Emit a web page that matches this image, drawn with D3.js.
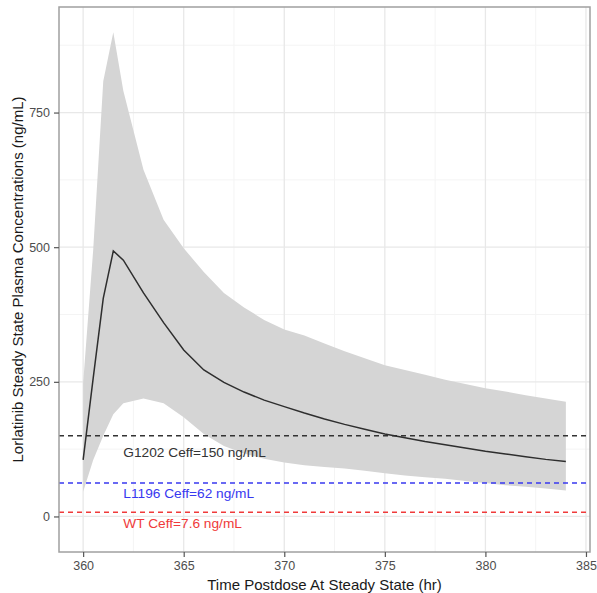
<!DOCTYPE html>
<html>
<head>
<meta charset="utf-8">
<script src="https://cdn.jsdelivr.net/npm/d3@7"></script>
<style>
  body { margin: 0; background: #fff; }
  text { font-family: "Liberation Sans", Arial, sans-serif; }
</style>
</head>
<body>
<svg id="chart" width="597" height="593"></svg>
<script>
// Time after dose (hr) and concentration summaries (ng/mL)
var times = [360, 360.5, 361, 361.5, 362, 363, 364, 365, 366, 367, 368, 369, 370,
             371, 372, 373, 374, 375, 376, 377, 378, 379, 380, 381, 382, 383, 384];
var meanConc = [105, 257, 405, 493, 476, 415, 360, 309, 272, 249, 231, 216, 204,
                192, 181, 171, 162, 153, 146, 139, 133, 127, 121, 116, 111, 106, 102];
var upperConc = [248, 495, 808, 899, 790, 644, 551, 498, 454, 415, 388, 365, 347,
                 336, 321, 307, 294, 281, 272, 263, 254, 246, 238, 232, 225, 219, 213];
var lowerConc = [46, 105, 150, 190, 210, 219, 210, 184, 153, 131, 117, 107, 100,
                 95, 92, 89, 85, 80, 76, 73, 70, 66, 62, 58, 55, 52, 48];

// Effective concentration thresholds
var ceffLabels = ["G1202 Ceff=150 ng/mL", "L1196 Ceff=62 ng/mL", "WT Ceff=7.6 ng/mL"];
var ceffValues = [150, 62, 7.6];
var ceffLabelY = [120, 43, -12];
var ceffColors = ["#333333", "#3838f0", "#f03a3a"];

var xTicks = [360, 365, 370, 375, 380, 385];
var yTicks = [0, 250, 500, 750];

var svg = d3.select("#chart");
var W = 597, H = 593;
var margin = { left: 59, top: 7, right: 7, bottom: 41 };
var pw = W - margin.left - margin.right;
var ph = H - margin.top - margin.bottom;

var x = d3.scaleLinear().domain([358.8, 385.2]).range([0, pw]);
var y = d3.scaleLinear().domain([-66, 946]).range([ph, 0]);

var g = svg.append("g").attr("transform", "translate(" + margin.left + "," + margin.top + ")");

// ── Grid ─────────────────────────────────────────────
var xMinor = [362.5, 367.5, 372.5, 377.5, 382.5];
var yMinor = [125, 375, 625, 875];

g.selectAll(".minor-x").data(xMinor).enter().append("line")
  .attr("x1", d => x(d)).attr("x2", d => x(d)).attr("y1", 0).attr("y2", ph)
  .attr("stroke", "#f4f4f4").attr("stroke-width", 1);
g.selectAll(".minor-y").data(yMinor).enter().append("line")
  .attr("y1", d => y(d)).attr("y2", d => y(d)).attr("x1", 0).attr("x2", pw)
  .attr("stroke", "#f4f4f4").attr("stroke-width", 1);
g.selectAll(".major-x").data(xTicks).enter().append("line")
  .attr("x1", d => x(d)).attr("x2", d => x(d)).attr("y1", 0).attr("y2", ph)
  .attr("stroke", "#e8e8e8").attr("stroke-width", 1.3);
g.selectAll(".major-y").data(yTicks).enter().append("line")
  .attr("y1", d => y(d)).attr("y2", d => y(d)).attr("x1", 0).attr("x2", pw)
  .attr("stroke", "#e8e8e8").attr("stroke-width", 1.3);

// ── Ribbon ───────────────────────────────────────────
var rows = times.map((t, i) => ({ t: t, m: meanConc[i], lo: lowerConc[i], hi: upperConc[i] }));

g.append("path")
  .datum(rows)
  .attr("fill", "#d5d5d5")
  .attr("d", d3.area().x(d => x(d.t)).y0(d => y(d.lo)).y1(d => y(d.hi)));

// ── Threshold lines ──────────────────────────────────
g.selectAll(".ceff").data(ceffValues).enter().append("line")
  .attr("x1", 0).attr("x2", pw)
  .attr("y1", d => y(d)).attr("y2", d => y(d))
  .attr("stroke", (d, i) => ceffColors[i])
  .attr("stroke-width", 1.5)
  .attr("stroke-dasharray", "5,4");

// ── Mean line ────────────────────────────────────────
g.append("path")
  .datum(rows)
  .attr("fill", "none")
  .attr("stroke", "#2e2e2e")
  .attr("stroke-width", 1.5)
  .attr("d", d3.line().x(d => x(d.t)).y(d => y(d.m)));

// ── Threshold labels ─────────────────────────────────
g.selectAll(".ceff-label").data(ceffLabels).enter().append("text")
  .attr("x", x(362))
  .attr("y", (d, i) => y(ceffLabelY[i]))
  .attr("dy", "0.35em")
  .attr("font-size", 13.7)
  .attr("fill", (d, i) => ceffColors[i])
  .text(d => d);

// ── Panel border ─────────────────────────────────────
g.append("rect")
  .attr("width", pw).attr("height", ph)
  .attr("fill", "none").attr("stroke", "#a0a0a0").attr("stroke-width", 1.5);

// ── Axes ─────────────────────────────────────────────
var xAxis = g.append("g").attr("transform", "translate(0," + ph + ")")
  .call(d3.axisBottom(x).tickValues(xTicks).tickSize(5).tickPadding(4));
var yAxis = g.append("g")
  .call(d3.axisLeft(y).tickValues(yTicks).tickSize(5).tickPadding(4));

[xAxis, yAxis].forEach(function (a) {
  a.select(".domain").remove();
  a.selectAll("line").attr("stroke", "#555").attr("stroke-width", 1.2);
  a.selectAll("text").attr("fill", "#4d4d4d").attr("font-size", 12.5)
    .attr("font-family", "'Liberation Sans', Arial, sans-serif");
});

svg.append("text")
  .attr("x", margin.left + pw / 2)
  .attr("y", 590)
  .attr("text-anchor", "middle")
  .attr("font-size", 15)
  .attr("fill", "#1a1a1a")
  .text("Time Postdose At Steady State (hr)");

svg.append("text")
  .attr("transform", "translate(23," + (margin.top + ph / 2) + ") rotate(-90)")
  .attr("text-anchor", "middle")
  .attr("font-size", 15)
  .attr("fill", "#1a1a1a")
  .text("Lorlatinib Steady State Plasma Concentrations (ng/mL)");
</script>
</body>
</html>
